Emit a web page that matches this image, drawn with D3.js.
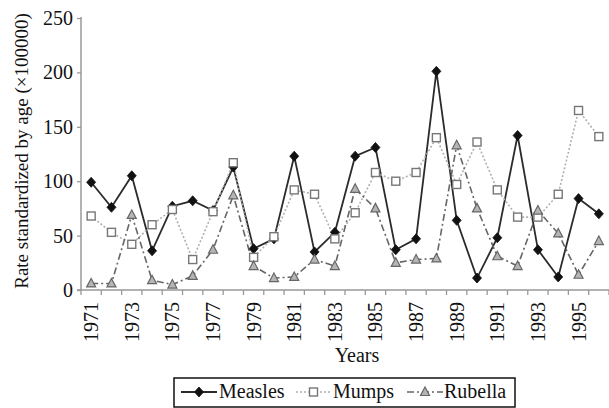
<!DOCTYPE html>
<html>
<head>
<meta charset="utf-8">
<script src="https://cdn.jsdelivr.net/npm/d3@7"></script>
<style>
  body { margin: 0; background: #fff; }
  svg text { font-family: "Liberation Serif", "Times New Roman", serif; fill: #111; }
</style>
</head>
<body>
<div id="screen"></div>
<script>
var width = 609;
var height = 408;

var years = [1971, 1972, 1973, 1974, 1975, 1976, 1977, 1978, 1979, 1980, 1981, 1982, 1983,
  1984, 1985, 1986, 1987, 1988, 1989, 1990, 1991, 1992, 1993, 1994, 1995, 1996];
var measles = [99, 76, 105, 36, 77, 82, 73, 113, 38, 47, 123, 35, 53,
  123, 131, 37, 47, 201, 64, 11, 48, 142, 37, 12, 84, 70];
var mumps = [68, 53, 42, 60, 74, 28, 72, 117, 30, 49, 92, 88, 47,
  71, 108, 100, 108, 140, 97, 136, 92, 67, 67, 88, 165, 141];
var rubella = [6, 6, 69, 9, 5, 13, 37, 87, 22, 11, 12, 28, 22,
  93, 75, 25, 28, 29, 133, 75, 31, 22, 73, 52, 14, 45];
var yTicks = [0, 50, 100, 150, 200, 250];
var xLabels = [1971, 1973, 1975, 1977, 1979, 1981, 1983, 1985, 1987, 1989, 1991, 1993, 1995];

var series = [
  { name: 'Measles', values: measles, stroke: '#2b2b2b', dash: null, lw: 1.8, marker: 'diamond' },
  { name: 'Mumps', values: mumps, stroke: '#b0b0b0', dash: '2,2', lw: 1.6, marker: 'square' },
  { name: 'Rubella', values: rubella, stroke: '#666', dash: '7,3,2,3', lw: 1.6, marker: 'triangle' }
];

var plotLeft = 81, plotRight = 609, plotTop = 18, plotBottom = 290;

var scaleX = d3.scaleBand().domain(years).range([plotLeft, plotRight]);
var scaleY = d3.scaleLinear().domain([0, 250]).range([plotBottom, plotTop]);

var svg = d3.select("#screen").append("svg").attr("width", width).attr("height", height);

// axes
var axisColor = '#999';
var yAxis = d3.axisLeft(scaleY).tickValues(yTicks).tickSize(4).tickSizeOuter(0);
var yAxisSpr = svg.append("g").attr("transform", "translate(" + plotLeft + ",0)").call(yAxis);
yAxisSpr.select(".domain").attr("stroke", axisColor).attr("stroke-width", 1.5)
  .attr("d", "M0," + (plotTop - 1) + "V" + plotBottom);
yAxisSpr.selectAll(".tick line").attr("stroke", axisColor).attr("stroke-width", 1.3);
yAxisSpr.selectAll(".tick text").attr("x", -8).attr("font-size", 20)
  .style("font-family", "Liberation Serif").attr("fill", "#111");

var xAxis = d3.axisBottom(scaleX).tickValues(xLabels).tickSize(0).tickPadding(0);
var xAxisSpr = svg.append("g").attr("transform", "translate(0," + plotBottom + ")").call(xAxis);
xAxisSpr.select(".domain").attr("stroke", axisColor).attr("stroke-width", 1.5)
  .attr("d", "M" + (plotLeft - 4) + ",0H" + plotRight);
xAxisSpr.selectAll(".tick text")
  .attr("font-size", 20)
  .style("font-family", "Liberation Serif")
  .attr("fill", "#111")
  .attr("text-anchor", "end")
  .attr("transform", "rotate(-90)")
  .attr("x", -12).attr("y", 0).attr("dy", "0.35em");

// boundary ticks between years
var bounds = years.map(function (d) { return scaleX(d); }).concat([plotRight]);
svg.append("g").selectAll("line").data(bounds).enter().append("line")
  .attr("x1", function (d) { return d; }).attr("x2", function (d) { return d; })
  .attr("y1", plotBottom).attr("y2", plotBottom + 5)
  .attr("stroke", axisColor).attr("stroke-width", 1.3);

// titles
svg.append("text").attr("transform", "translate(28,151) rotate(-90)")
  .attr("text-anchor", "middle").attr("font-size", 19)
  .text("Rate standardized by age (\u00d7100000)");
svg.append("text").attr("x", 357).attr("y", 362).attr("text-anchor", "middle")
  .attr("font-size", 20).text("Years");

var cx = function (i) { return scaleX(years[i]) + scaleX.bandwidth() / 2; };

var drawMarker = function (g, type, x, y) {
  if (type === 'diamond') {
    g.append("path").attr("d", "M" + x + "," + (y - 5) + "L" + (x + 4.5) + "," + y + "L" + x + "," + (y + 5) + "L" + (x - 4.5) + "," + y + "Z")
      .attr("fill", "#111").attr("stroke", "#111").attr("stroke-width", 0.8);
  } else if (type === 'square') {
    g.append("rect").attr("x", x - 4).attr("y", y - 4).attr("width", 8).attr("height", 8)
      .attr("fill", "#fff").attr("stroke", "#777").attr("stroke-width", 1.4);
  } else {
    g.append("path").attr("d", "M" + x + "," + (y - 5) + "L" + (x + 4.5) + "," + (y + 3.5) + "L" + (x - 4.5) + "," + (y + 3.5) + "Z")
      .attr("fill", "#b5b5b5").attr("stroke", "#666").attr("stroke-width", 1.2);
  }
};

// lines then markers
series.forEach(function (s) {
  var line = d3.line().x(function (d, i) { return cx(i); }).y(function (d) { return scaleY(d); });
  svg.append("path").datum(s.values).attr("d", line)
    .attr("fill", "none").attr("stroke", s.stroke).attr("stroke-width", s.lw)
    .attr("stroke-dasharray", s.dash);
});
series.forEach(function (s) {
  var g = svg.append("g");
  s.values.forEach(function (v, i) { drawMarker(g, s.marker, cx(i), scaleY(v)); });
});

// legend
var lg = svg.append("g");
lg.append("rect").attr("x", 174).attr("y", 378).attr("width", 341).attr("height", 29)
  .attr("fill", "#fff").attr("stroke", "#111").attr("stroke-width", 1.5);
var legendItems = [
  { s: series[0], x1: 181, x2: 217, tx: 219 },
  { s: series[1], x1: 296, x2: 331, tx: 333 },
  { s: series[2], x1: 407, x2: 443, tx: 444 }
];
legendItems.forEach(function (it) {
  lg.append("line").attr("x1", it.x1).attr("x2", it.x2).attr("y1", 392).attr("y2", 392)
    .attr("stroke", it.s.stroke).attr("stroke-width", it.s.lw).attr("stroke-dasharray", it.s.dash);
  drawMarker(lg, it.s.marker, (it.x1 + it.x2) / 2, 392);
  lg.append("text").attr("x", it.tx).attr("y", 398).attr("font-size", 20).text(it.s.name);
});
</script>
</body>
</html>
